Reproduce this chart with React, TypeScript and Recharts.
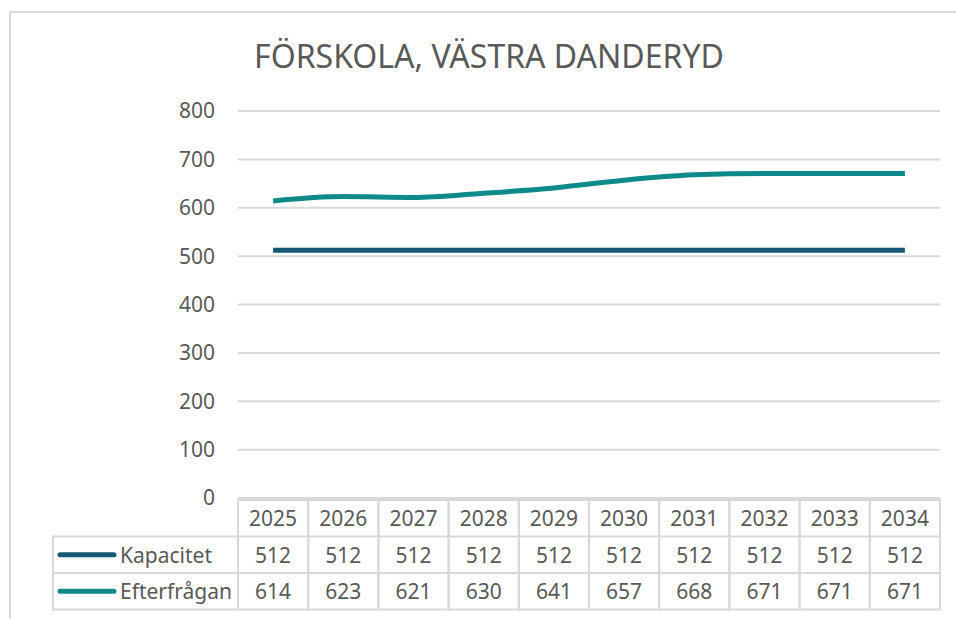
import React from 'react';
import { CartesianGrid, Line, LineChart, XAxis, YAxis } from 'recharts';

const years = ['2025', '2026', '2027', '2028', '2029', '2030', '2031', '2032', '2033', '2034'];
const kapacitet = [512, 512, 512, 512, 512, 512, 512, 512, 512, 512];
const efterfragan = [614, 623, 621, 630, 641, 657, 668, 671, 671, 671];
const yTicks = [0, 100, 200, 300, 400, 500, 600, 700, 800];

const series = [
  { key: 'kapacitet', name: 'Kapacitet', color: '#165975', values: kapacitet },
  { key: 'efterfragan', name: 'Efterfrågan', color: '#0f8a8a', values: efterfragan },
];

const data = years.map((year, i) => ({
  year,
  kapacitet: kapacitet[i],
  efterfragan: efterfragan[i],
}));

const FONT = '"Noto Sans", sans-serif';
const TEXT = '#595959';
const BORDER = '#d9d9d9';
const COL = 70.2;
const ROW = 36.5;

// draws one column of the data table under each category
const TableTick = (props: any) => {
  const { x, y, payload } = props;
  const i = payload.index;
  const left = x - COL / 2;
  const top = y;
  return (
    <g fontFamily={FONT} fontSize={21} fill={TEXT}>
      <rect x={left} y={top} width={COL} height={ROW * 3} fill="none" stroke={BORDER} strokeWidth={2} />
      <line x1={left} x2={left + COL} y1={top + ROW} y2={top + ROW} stroke={BORDER} strokeWidth={2} />
      <line x1={left} x2={left + COL} y1={top + ROW * 2} y2={top + ROW * 2} stroke={BORDER} strokeWidth={2} />
      <text x={x} y={top + ROW / 2} textAnchor="middle" dominantBaseline="central">{payload.value}</text>
      {series.map((s, r) => (
        <text key={s.key} x={x} y={top + ROW * (r + 1.5)} textAnchor="middle" dominantBaseline="central">
          {s.values[i]}
        </text>
      ))}
      {i === 0 && (
        <g>
          <rect x={left - 185} y={top + ROW} width={185} height={ROW * 2} fill="none" stroke={BORDER} strokeWidth={2} />
          <line x1={left - 185} x2={left} y1={top + ROW * 2} y2={top + ROW * 2} stroke={BORDER} strokeWidth={2} />
          {series.map((s, r) => (
            <g key={s.key}>
              <line
                x1={left - 178}
                x2={left - 124}
                y1={top + ROW * (r + 1.5)}
                y2={top + ROW * (r + 1.5)}
                stroke={s.color}
                strokeWidth={5}
                strokeLinecap="round"
              />
              <text x={left - 118} y={top + ROW * (r + 1.5)} dominantBaseline="central">{s.name}</text>
            </g>
          ))}
        </g>
      )}
    </g>
  );
};

export default function App() {
  return (
    <div style={{ position: 'relative', width: 956, height: 619, overflow: 'hidden', background: '#fff' }}>
      <style>{'body{margin:0}'}</style>
      <div
        style={{
          position: 'absolute',
          left: 9,
          top: 11,
          width: 1000,
          height: 700,
          border: `2px solid ${BORDER}`,
          boxSizing: 'border-box',
        }}
      />
      <div
        style={{
          position: 'absolute',
          left: 0,
          width: 978,
          top: 40,
          textAlign: 'center',
          fontFamily: FONT,
          fontSize: 32,
          lineHeight: 1,
          color: TEXT,
        }}
      >
        FÖRSKOLA, VÄSTRA DANDERYD
      </div>
      <div style={{ position: 'absolute', left: 0, top: 0 }}>
        <LineChart width={956} height={619} data={data} margin={{ top: 111, right: 16, bottom: 10, left: 0 }}>
          <CartesianGrid vertical={false} stroke={BORDER} strokeWidth={2} />
          <XAxis
            dataKey="year"
            height={111}
            axisLine={false}
            tickLine={false}
            tickSize={0}
            tickMargin={2}
            interval={0}
            padding={{ left: COL / 2, right: COL / 2 }}
            tick={<TableTick />}
          />
          <YAxis
            width={238}
            domain={[0, 800]}
            ticks={yTicks}
            axisLine={false}
            tickLine={false}
            tickSize={0}
            tickMargin={23}
            tick={{ fill: TEXT, fontSize: 21, fontFamily: FONT }}
          />
          {series.map((s) => (
            <Line
              key={s.key}
              type="monotone"
              dataKey={s.key}
              name={s.name}
              stroke={s.color}
              strokeWidth={5}
              dot={false}
              activeDot={false}
              isAnimationActive={false}
            />
          ))}
        </LineChart>
      </div>
    </div>
  );
}
